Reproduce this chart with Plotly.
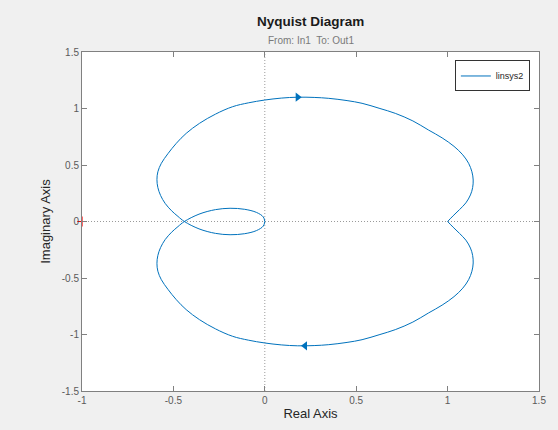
import plotly.graph_objects as go

# Branch traversed for negative frequencies (drawn through the upper half)
upper_re = [0, -0.008, -0.045, -0.11, -0.19, -0.27, -0.36, -0.44, -0.475, -0.51, -0.545, -0.57,
            -0.585, -0.59, -0.585, -0.566, -0.53, -0.484, -0.43, -0.357, -0.27, -0.176, -0.09,
            0, 0.09, 0.18, 0.27, 0.35, 0.45, 0.532, 0.63, 0.714, 0.81, 0.895, 0.97, 1.035, 1.083,
            1.115, 1.133, 1.14, 1.137, 1.125, 1.10, 1.065, 1.03, 1.0]
upper_im = [0, -0.04, -0.08, -0.108, -0.117, -0.105, -0.065, 0, 0.045, 0.095, 0.16, 0.23,
            0.30, 0.37, 0.44, 0.515, 0.60, 0.692, 0.78, 0.869, 0.95, 1.016, 1.05,
            1.075, 1.092, 1.10, 1.098, 1.09, 1.07, 1.046, 1.0, 0.957, 0.89, 0.81, 0.74, 0.665, 0.59,
            0.515, 0.44, 0.367, 0.30, 0.235, 0.165, 0.105, 0.05, 0]
# Branch traversed for positive frequencies (drawn through the lower half)
lower_re = [1.0, 1.03, 1.065, 1.10, 1.125, 1.137, 1.14, 1.133, 1.115, 1.083, 1.035, 0.97, 0.895,
            0.81, 0.714, 0.63, 0.532, 0.45, 0.35, 0.27, 0.18, 0.09, 0, -0.09, -0.176, -0.27,
            -0.357, -0.43, -0.484, -0.53, -0.566, -0.585, -0.59, -0.585, -0.57, -0.545, -0.51,
            -0.475, -0.44, -0.36, -0.27, -0.19, -0.11, -0.045, -0.008, 0]
lower_im = [0, -0.05, -0.105, -0.165, -0.235, -0.30, -0.367, -0.44, -0.515, -0.59, -0.665, -0.74,
            -0.81, -0.89, -0.957, -1.0, -1.046, -1.07, -1.09, -1.098, -1.10, -1.092, -1.075,
            -1.05, -1.016, -0.95, -0.869, -0.78, -0.692, -0.60, -0.515, -0.44, -0.37, -0.30,
            -0.23, -0.16, -0.095, -0.045, 0, 0.065, 0.105, 0.117, 0.108, 0.08, 0.04, 0]
# Direction arrows
arrow_re = [0.18, 0.22]
arrow_im = [1.10, -1.10]
arrow_symbols = ["triangle-right", "triangle-left"]
# Critical point
crit_re = [-1]
crit_im = [0]

x_ticks = [-1, -0.5, 0, 0.5, 1, 1.5]
x_labels = ["-1", "-0.5", "0", "0.5", "1", "1.5"]
y_ticks = [-1.5, -1, -0.5, 0, 0.5, 1, 1.5]
y_labels = ["-1.5", "-1", "-0.5", "0", "0.5", "1", "1.5"]

BLUE = "#0072BD"
FONT = "Liberation Sans, Arial, sans-serif"

fig = go.Figure()
# dotted zero lines
fig.add_trace(go.Scatter(x=[-1, 1.5], y=[0, 0], mode="lines", showlegend=False,
                         line=dict(color="#9a9a9a", width=1, dash="1px,2px"), hoverinfo="skip"))
fig.add_trace(go.Scatter(x=[0, 0], y=[-1.5, 1.5], mode="lines", showlegend=False,
                         line=dict(color="#9a9a9a", width=1, dash="1px,2px"), hoverinfo="skip"))
fig.add_trace(go.Scatter(x=upper_re, y=upper_im, mode="lines", name="linsys2",
                         line=dict(color=BLUE, width=1, shape="spline", smoothing=1.0)))
fig.add_trace(go.Scatter(x=lower_re, y=lower_im, mode="lines", showlegend=False,
                         line=dict(color=BLUE, width=1, shape="spline", smoothing=1.0)))
fig.add_trace(go.Scatter(x=arrow_re, y=arrow_im, mode="markers", showlegend=False,
                         marker=dict(symbol=arrow_symbols, size=8, color=BLUE)))
fig.add_trace(go.Scatter(x=crit_re, y=crit_im, mode="markers", showlegend=False, cliponaxis=False,
                         marker=dict(symbol="cross-thin", size=7, line=dict(color="red", width=1.2))))

axis_common = dict(showgrid=False, zeroline=False, showline=True, linecolor="#808080", linewidth=1,
                   mirror="ticks", ticks="inside", ticklen=5, tickcolor="#808080",
                   tickfont=dict(family=FONT, size=10, color="#5a5a5a"))
fig.update_xaxes(range=[-1, 1.5], tickvals=x_ticks, ticktext=x_labels,
                 title=dict(text="Real Axis", font=dict(family=FONT, size=13, color="#262626"), standoff=3),
                 **axis_common)
fig.update_yaxes(range=[-1.5, 1.5], tickvals=y_ticks, ticktext=y_labels,
                 title=dict(text="Imaginary Axis", font=dict(family=FONT, size=13, color="#262626"), standoff=8),
                 **axis_common)

fig.update_layout(
    width=558, height=430,
    margin=dict(l=82, r=17, t=52, b=39),
    paper_bgcolor="#f0f0f0", plot_bgcolor="white",
    font=dict(family=FONT),
    legend=dict(x=0.98, y=0.975, xanchor="right", yanchor="top", bgcolor="white",
                bordercolor="#333333", borderwidth=1, font=dict(family=FONT, size=9, color="#262626"),
                itemwidth=30, tracegroupgap=0),
    annotations=[
        dict(text="<b>Nyquist Diagram</b>", xref="paper", yref="paper", x=0.5, y=1,
             yshift=40, showarrow=False, font=dict(family=FONT, size=13.5, color="#1a1a1a")),
        dict(text="From: In1  To: Out1", xref="paper", yref="paper", x=0.5, y=1,
             yshift=19, showarrow=False, font=dict(family=FONT, size=10, color="#7a7a7a")),
    ],
)

fig.write_html("out.html")
